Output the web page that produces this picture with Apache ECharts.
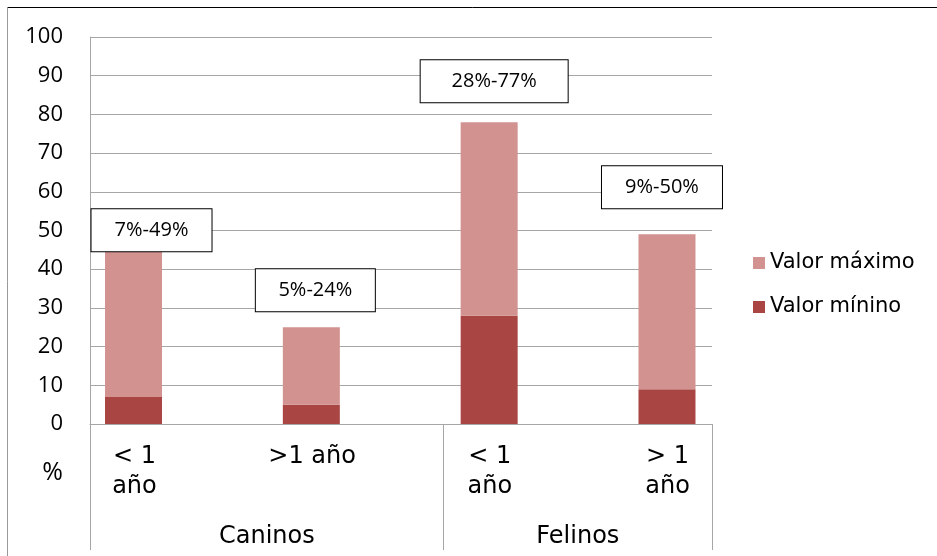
<!DOCTYPE html>
<html>
<head>
<meta charset="utf-8">
<script src="https://cdn.jsdelivr.net/npm/echarts@6/dist/echarts.min.js"></script>
<style>
  html, body { margin: 0; padding: 0; background: #fff; }
  #chart-container { width: 937px; height: 556px; }
</style>
</head>
<body>
<div id="chart-container"></div>
<script>
// categorias (eje x, dos niveles)
const categorias = ['< 1\naño', '>1 año', '< 1\naño', '> 1\naño'];
const grupos = ['Caninos', 'Felinos'];
// valores de las barras apiladas
const valorMinimo = [7, 5, 28, 9];
const tramoMaximo = [42, 20, 50, 40];
// rango escrito en las cajas de texto
const rangoMinimo = [7, 5, 28, 9];
const rangoMaximo = [49, 24, 77, 50];

// cajas de texto: desplazamiento y ancho
const cajas = [
    { dx: 18, dy: 17, w: 120 },
    { dx: 4, dy: -16, w: 119 },
    { dx: 5, dy: -20, w: 147 },
    { dx: -5, dy: -26, w: 120 }
];

// separadores de grupo en el eje de etiquetas
const xMin = -0.25, xMax = 3.25, corte = 1.74;

const gris = '#a6a6a6';
const fuenteNum = '"Open Sans", sans-serif';
const fuenteTxt = '"DejaVu Sans", sans-serif';

const chart = echarts.init(document.getElementById('chart-container'));

chart.setOption({
    animation: false,
    backgroundColor: '#fff',
    grid: [
        // area visible (ejes, rejilla)
        { left: 90, right: 225, top: 37, bottom: 132 },
        // las barras no ocupan todo el ancho del eje en el original
        { left: 44.6, right: 181.1, top: 37, bottom: 132 }
    ],
    legend: {
        orient: 'vertical',
        left: 753,
        top: 251,
        padding: 0,
        itemWidth: 12,
        itemHeight: 12,
        itemGap: 20,
        icon: 'rect',
        data: ['Valor máximo', 'Valor mínino'],
        textStyle: { fontFamily: fuenteTxt, fontSize: 21, color: '#000', lineHeight: 24 }
    },
    xAxis: [
        {
            type: 'value',
            gridIndex: 0,
            min: xMin,
            max: xMax,
            axisLine: { show: true, onZero: false, lineStyle: { color: gris } },
            axisTick: { show: true, customValues: [xMin, corte, xMax], length: 126, lineStyle: { color: gris } },
            splitLine: { show: false },
            axisLabel: {
                customValues: [0, 1, 2, 3],
                formatter: (v) => categorias[Math.round(v)],
                margin: 18,
                fontFamily: fuenteTxt,
                fontSize: 24,
                lineHeight: 30,
                color: '#000',
                align: 'center'
            }
        },
        {
            type: 'value',
            gridIndex: 0,
            position: 'bottom',
            min: xMin,
            max: xMax,
            axisLine: { show: false },
            axisTick: { show: false },
            splitLine: { show: false },
            axisLabel: {
                customValues: [(xMin + corte) / 2, (corte + xMax) / 2],
                formatter: (v) => grupos[v < corte ? 0 : 1],
                margin: 98,
                fontFamily: fuenteTxt,
                fontSize: 24,
                lineHeight: 30,
                color: '#000'
            }
        },
        {
            type: 'category',
            gridIndex: 1,
            data: categorias,
            show: false
        }
    ],
    yAxis: [
        {
            type: 'value',
            gridIndex: 0,
            min: 0,
            max: 100,
            interval: 10,
            name: '%',
            nameLocation: 'start',
            nameGap: 49,
            nameMoveOverlap: false,
            nameTextStyle: {
                fontFamily: fuenteNum, fontSize: 25, color: '#000',
                align: 'right', verticalAlign: 'middle', padding: [0, 27, 0, 0]
            },
            axisLine: { show: true, onZero: false, lineStyle: { color: gris } },
            axisTick: { show: false },
            splitLine: { show: true, lineStyle: { color: gris, width: 1 } },
            axisLabel: { margin: 27, fontFamily: fuenteNum, fontSize: 22, color: '#000' }
        },
        {
            type: 'value',
            gridIndex: 1,
            min: 0,
            max: 100,
            show: false,
            splitLine: { show: false }
        }
    ],
    series: [
        {
            name: 'Valor mínino',
            type: 'bar',
            xAxisIndex: 2,
            yAxisIndex: 1,
            stack: 'total',
            barWidth: 57,
            itemStyle: { color: '#a94644' },
            data: valorMinimo
        },
        {
            name: 'Valor máximo',
            type: 'bar',
            xAxisIndex: 2,
            yAxisIndex: 1,
            stack: 'total',
            barWidth: 57,
            itemStyle: { color: '#d29290' },
            data: tramoMaximo.map((v, i) => ({
                value: v,
                label: { offset: [cajas[i].dx, cajas[i].dy], width: cajas[i].w }
            })),
            label: {
                show: true,
                position: 'top',
                distance: 0,
                formatter: (p) => rangoMinimo[p.dataIndex] + '%-' + rangoMaximo[p.dataIndex] + '%',
                fontFamily: fuenteNum,
                fontSize: 20,
                lineHeight: 22,
                color: '#000',
                align: 'center',
                backgroundColor: '#fff',
                borderColor: '#000',
                borderWidth: 1,
                padding: [10, 0, 10, 0]
            }
        }
    ],
    graphic: [
        { type: 'line', shape: { x1: 7.5, y1: 7.5, x2: 937, y2: 7.5 }, style: { stroke: '#000', lineWidth: 1 } },
        { type: 'line', shape: { x1: 7.5, y1: 7.5, x2: 7.5, y2: 556 }, style: { stroke: '#999', lineWidth: 1 } }
    ]
});
</script>
</body>
</html>
